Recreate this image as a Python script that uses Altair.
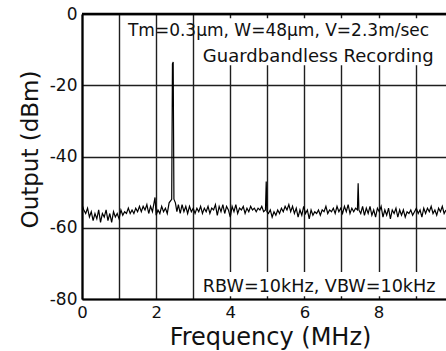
import altair as alt
import pandas as pd

# Spectrum trace (frequency in MHz, output in dBm)
freq_mhz = [
    0.00, 0.05, 0.10, 0.15, 0.20, 0.25, 0.30, 0.35, 0.40, 0.45,
    0.50, 0.55, 0.60, 0.65, 0.70, 0.75, 0.80, 0.85, 0.90, 0.95,
    1.00, 1.05, 1.10, 1.15, 1.20, 1.25, 1.30, 1.35, 1.40, 1.45,
    1.50, 1.55, 1.60, 1.65, 1.70, 1.75, 1.80, 1.85, 1.90, 1.97,
    2.00, 2.05, 2.10, 2.15, 2.20, 2.25, 2.30, 2.35, 2.42, 2.44,
    2.46, 2.48, 2.52, 2.56, 2.60, 2.65, 2.70, 2.75, 2.80, 2.85,
    2.90, 2.95, 3.00, 3.05, 3.10, 3.15, 3.20, 3.25, 3.30, 3.35,
    3.40, 3.45, 3.50, 3.55, 3.60, 3.65, 3.70, 3.75, 3.80, 3.85,
    3.90, 3.95, 4.00, 4.05, 4.10, 4.15, 4.20, 4.25, 4.30, 4.35,
    4.40, 4.45, 4.50, 4.55, 4.60, 4.65, 4.70, 4.75, 4.80, 4.85,
    4.90, 4.95, 4.97, 4.99, 5.03, 5.08, 5.13, 5.18, 5.23, 5.28,
    5.33, 5.38, 5.43, 5.48, 5.53, 5.58, 5.63, 5.68, 5.73, 5.78,
    5.83, 5.88, 5.93, 5.98, 6.03, 6.08, 6.13, 6.18, 6.23, 6.28,
    6.33, 6.38, 6.43, 6.48, 6.53, 6.58, 6.63, 6.68, 6.73, 6.78,
    6.83, 6.88, 6.93, 6.98, 7.03, 7.08, 7.13, 7.18, 7.23, 7.28,
    7.33, 7.38, 7.43, 7.45, 7.47, 7.52, 7.57, 7.62, 7.67, 7.72,
    7.77, 7.82, 7.87, 7.92, 7.97, 8.02, 8.07, 8.12, 8.17, 8.22,
    8.27, 8.32, 8.37, 8.42, 8.47, 8.52, 8.57, 8.62, 8.67, 8.72,
    8.77, 8.82, 8.87, 8.92, 8.97, 9.02, 9.07, 9.12, 9.17, 9.22,
    9.27, 9.32, 9.37, 9.42, 9.47, 9.52, 9.57, 9.62, 9.67, 9.72,
    9.77, 9.82,
]
output_dbm = [
    -53.5, -55, -56, -54.5, -57, -55.5, -58, -56, -57.5, -55,
    -58.5, -56, -57, -55, -58, -56, -58.5, -55.5, -57, -56,
    -57.5, -55, -56.5, -55.5, -56, -54.5, -56, -55, -56, -54.5,
    -55.5, -54, -55.5, -54, -55, -53.5, -56, -54, -55.5, -51.5,
    -56.5, -55, -56, -54, -55.5, -54.5, -56, -53, -52, -14,
    -13.5, -52, -53, -55.5, -53.5, -56, -53.5, -55.5, -54, -56,
    -54, -55.5, -54.5, -56, -54.5, -55.5, -54, -56, -54.5, -55.5,
    -54, -56, -54.5, -55, -53.5, -56.5, -54, -55.5, -53.5, -56,
    -54, -55, -57, -54, -55.5, -53.5, -56, -54.5, -55, -54,
    -56, -54.5, -55.5, -54, -55, -54.5, -55.5, -54.5, -55, -54,
    -55.5, -55, -47, -55.5, -56, -55, -57, -55.5, -56.5, -55,
    -56, -54.5, -55.5, -54, -55, -53.5, -55.5, -54, -56, -54.5,
    -57, -55, -56.5, -54, -56, -55, -57.5, -55, -56.5, -55.5,
    -56, -55, -56.5, -55, -55.5, -54, -56, -55, -55.5, -54.5,
    -56, -54, -55.5, -54.5, -56, -54, -55.5, -53.5, -56, -54.5,
    -55.5, -54.5, -55, -47.5, -55, -56, -54, -56.5, -54.5, -56,
    -54, -56.5, -55, -57, -54.5, -55.5, -54, -57, -55, -56.5,
    -54.5, -57.5, -55, -56, -54.5, -57, -55, -56.5, -55, -57,
    -55.5, -56, -55, -56.5, -55.5, -54.5, -56, -55, -57, -54.5,
    -56, -54.5, -55.5, -54, -56, -55, -56.5, -54.5, -55.5, -54,
    -56, -55,
]

x_grid = [0, 1, 2, 3, 4, 5, 6, 7, 8, 9]
y_grid = [-80, -70, -60, -50, -40, -30, -20, -10, 0]

note_text = ["Tm=0.3\u03bcm, W=48\u03bcm, V=2.3m/sec", "Guardbandless Recording",
             "RBW=10kHz, VBW=10kHz"]
note_x = [1.24, 3.26, 3.26]
note_y = [-6.2, -13.6, -78.0]
note_size = [17, 18, 17.6]

# white boxes behind the annotations (cover the grid)
box_x = [3.1, 3.1]
box_x2 = [9.52, 9.82]
box_y = [-1.2, -72.4]
box_y2 = [-14.4, -79.2]

FONT = "DejaVu Sans"
X_DOMAIN = [0, 9.82]
Y_DOMAIN = [-80, 0]
GRID = "#1e1e1e"

trace = pd.DataFrame({"f": freq_mhz, "p": output_dbm})
notes = pd.DataFrame({"x": note_x, "y": note_y, "t": note_text, "s": note_size})
boxes = pd.DataFrame({"x": box_x, "x2": box_x2, "y": box_y, "y2": box_y2})

xscale = alt.Scale(domain=X_DOMAIN, nice=False, zero=False)
yscale = alt.Scale(domain=Y_DOMAIN, nice=False, zero=False)

line = alt.Chart(trace).mark_line(color="black", strokeWidth=1.2, clip=True).encode(
    x=alt.X("f:Q", scale=xscale, axis=alt.Axis(
        values=x_grid, grid=True, ticks=False, domain=True,
        domainColor="black", domainWidth=2.2,
        gridColor=GRID, gridWidth=1.4,
        labelExpr="datum.value % 2 === 0 ? '' + datum.value : ''",
        labelFlush=False,
        labelFont=FONT, labelFontSize=16.5, labelColor="#111111", labelPadding=5,
        title="Frequency (MHz)", titleFont=FONT, titleFontSize=24,
        titleFontWeight="normal", titleColor="#111111",
        titleX=188, titleY=45, titleBaseline="alphabetic", titleAnchor="middle",
    )),
    y=alt.Y("p:Q", scale=yscale, axis=alt.Axis(
        values=y_grid, grid=True, ticks=False, domain=True,
        domainColor="black", domainWidth=2.2,
        gridColor=GRID, gridWidth=1.4,
        labelExpr="datum.value % 20 === 0 ? '' + datum.value : ''",
        labelFlush=False,
        labelFont=FONT, labelFontSize=17, labelColor="#111111", labelPadding=5,
        title="Output (dBm)", titleFont=FONT, titleFontSize=23,
        titleFontWeight="normal", titleColor="#111111",
        titleX=-52, titleY=135, titleBaseline="middle", titleAnchor="middle",
    )),
)

box = alt.Chart(boxes).mark_rect(color="white").encode(
    x=alt.X("x:Q", scale=xscale), x2="x2:Q",
    y=alt.Y("y:Q", scale=yscale), y2="y2:Q",
)

top = alt.Chart(pd.DataFrame({"y": [0]})).mark_rule(color="black", strokeWidth=2.4).encode(
    y=alt.Y("y:Q", scale=yscale)
)

text = alt.Chart(notes).mark_text(
    font=FONT, color="#111111", align="left", baseline="alphabetic"
).encode(
    x=alt.X("x:Q", scale=xscale),
    y=alt.Y("y:Q", scale=yscale),
    text="t:N",
    size=alt.Size("s:Q", scale=None, legend=None),
)

chart = alt.layer(line, box, top, text).properties(
    width=364, height=285,
    autosize=alt.AutoSizeParams(type="none"),
    padding={"left": 82, "top": 14, "right": 0, "bottom": 52},
    background="white",
).configure_view(stroke=None)

chart.save("out.html", embed_options={"renderer": "svg", "actions": False})
